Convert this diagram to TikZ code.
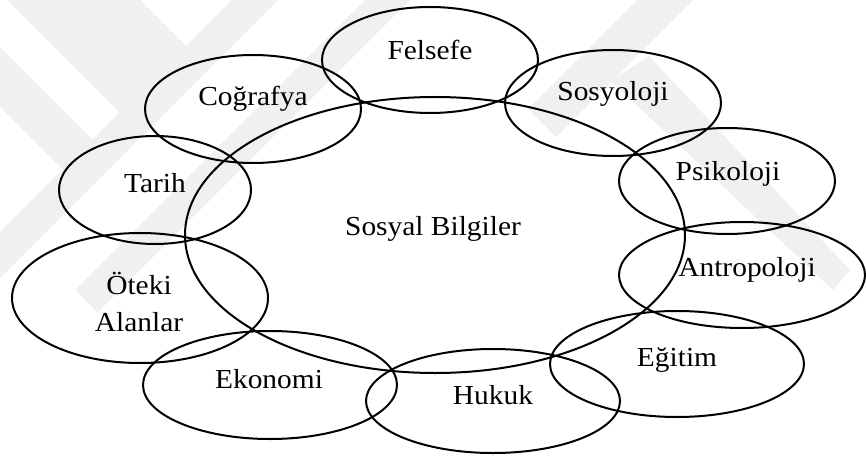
\documentclass[tikz,border=0pt]{standalone}
\usepackage{fontspec}
\setmainfont{Liberation Serif}[FakeStretch=1.07]
\usetikzlibrary{shapes.geometric}
\begin{document}
\begin{tikzpicture}[x=1pt,y=-1pt,
  ring/.style={draw=black, line width=2pt, ellipse, inner sep=0pt, outer sep=0pt},
  lbl/.style={anchor=base, inner sep=0pt, font=\fontsize{27.5}{37}\selectfont, align=center},
  mark stripe/.style={fill=black!6}]
\useasboundingbox (0,0) rectangle (866,462);

% faint diagonal stripes in the background
\begin{scope}
  \clip (0,0) rectangle (866,462);
  % left group
  \fill[mark stripe] (232,0) -- (278,0) -- (0,278) -- (0,232) -- cycle;
  \fill[mark stripe] (7,0) -- (140,0) -- (186,46) -- (119.5,112.5) -- (7,0) -- cycle;
  \fill[mark stripe] (0,47) -- (92.5,139.5) -- (62.5,169.5) -- (0,107) -- cycle;
  \fill[mark stripe] (365,0) -- (410,0) -- (97.5,312.5) -- (75,290) -- cycle;
  % right group
  \fill[mark stripe] (637,0) -- (693,0) -- (556,137) -- (528,109) -- cycle;
  \fill[mark stripe] (611,81) -- (649,56) -- (850,270) -- (833,290) -- cycle;
\end{scope}

% central field
\node[ring, minimum width=500pt, minimum height=276pt] (sb) at (435,235) {};
\node[lbl] (sbt) at (433,235) {Sosyal Bilgiler};

% surrounding disciplines
\node[ring, minimum width=216pt, minimum height=106pt] (fel) at (430,60) {};
\node[lbl] (felt) at (430,60) {Felsefe};

\node[ring, minimum width=216pt, minimum height=108pt] (cog) at (253,109) {};
\node[lbl] (cogt) at (253,106) {Coğrafya};

\node[ring, minimum width=216pt, minimum height=106pt] (sos) at (613,103) {};
\node[lbl] (sost) at (613,101) {Sosyoloji};

\node[ring, minimum width=192pt, minimum height=108pt] (tar) at (155,190) {};
\node[lbl] (tart) at (155,193) {Tarih};

\node[ring, minimum width=216pt, minimum height=106pt] (psi) at (727,181) {};
\node[lbl] (psit) at (728,181) {Psikoloji};

\node[ring, minimum width=256pt, minimum height=130pt] (ote) at (140,298) {};
\node[lbl] (otet) at (139,331) {Öteki\\Alanlar};

\node[ring, minimum width=246pt, minimum height=106pt] (ant) at (742,275) {};
\node[lbl] (antt) at (747,276) {Antropoloji};

\node[ring, minimum width=254pt, minimum height=108pt] (eko) at (270,385) {};
\node[lbl] (ekot) at (269,388) {Ekonomi};

\node[ring, minimum width=254pt, minimum height=106pt] (egi) at (677,364) {};
\node[lbl] (egit) at (677,366) {Eğitim};

\node[ring, minimum width=254pt, minimum height=104pt] (huk) at (493,401) {};
\node[lbl] (hukt) at (493,404) {Hukuk};
\end{tikzpicture}
\end{document}
